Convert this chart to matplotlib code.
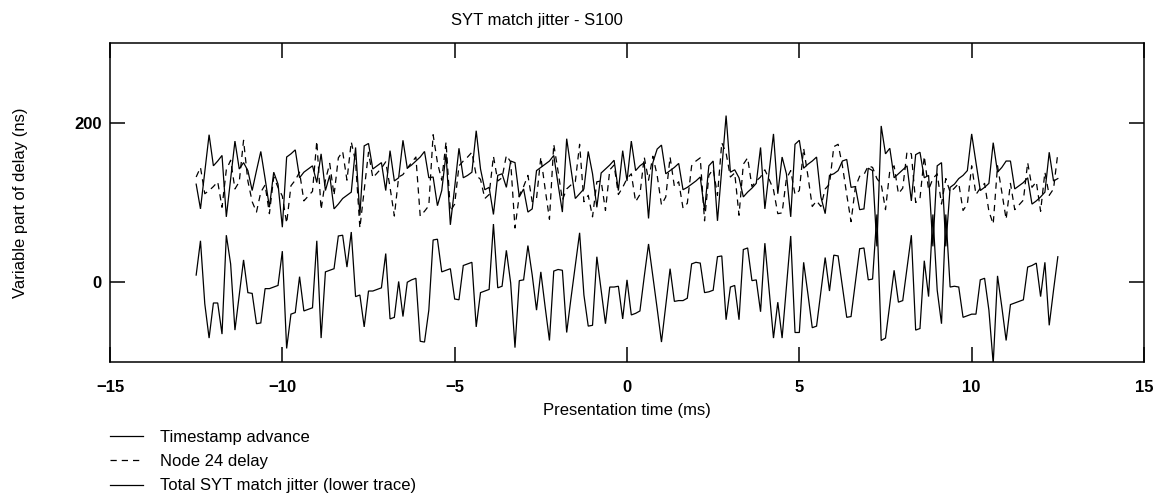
import numpy as np
import matplotlib
matplotlib.use("Agg")
import matplotlib.pyplot as plt

plt.rcParams['font.family'] = ['Liberation Sans', 'DejaVu Sans']

# Presentation time axis: 201 samples, 0.125 ms apart
t_start_ms = -12.5
t_step_ms = 0.125

timestamp_advance = [
    123, 92, 138, 185, 146, 152, 159, 82, 130, 177, 142, 150, 140, 115, 140, 164, 130, 94, 138, 123,
    69, 157, 161, 166, 131, 138, 142, 146, 125, 161, 115, 134, 92, 98, 105, 109, 113, 169, 84, 171,
    174, 142, 146, 150, 115, 165, 127, 131, 178, 143, 147, 152, 157, 164, 131, 132, 96, 115, 161, 72,
    119, 168, 131, 134, 138, 190, 142, 116, 119, 85, 134, 136, 119, 152, 150, 107, 117, 88, 92, 140,
    144, 148, 152, 159, 123, 88, 180, 142, 105, 111, 117, 164, 136, 94, 137, 142, 147, 153, 115, 165,
    127, 177, 140, 146, 150, 80, 150, 167, 172, 136, 140, 144, 149, 116, 119, 123, 127, 132, 90, 146,
    152, 77, 142, 209, 138, 141, 131, 107, 113, 118, 124, 169, 92, 139, 186, 111, 157, 136, 82, 173,
    178, 143, 148, 152, 157, 107, 86, 134, 136, 140, 152, 154, 119, 120, 91, 92, 143, 140, 45, 196,
    161, 168, 131, 136, 141, 146, 102, 160, 163, 131, 134, 45, 146, 150, 45, 119, 123, 130, 134, 140,
    186, 150, 115, 119, 124, 175, 138, 144, 152, 152, 117, 121, 125, 131, 98, 102, 107, 113, 163, 127,
    130,
]

node24_delay = [
    132, 144, 111, 115, 120, 126, 94, 141, 153, 117, 126, 178, 127, 101, 88, 113, 122, 86, 132, 119,
    108, 74, 121, 128, 138, 102, 108, 114, 177, 91, 128, 149, 109, 156, 164, 128, 176, 151, 68, 115,
    163, 131, 137, 143, 151, 119, 83, 132, 135, 143, 150, 157, 83, 89, 96, 185, 150, 128, 176, 89,
    98, 146, 152, 157, 163, 134, 129, 105, 110, 158, 127, 131, 159, 151, 68, 109, 120, 134, 101, 105,
    157, 117, 79, 173, 139, 103, 117, 122, 126, 173, 101, 109, 82, 126, 127, 90, 141, 147, 110, 119,
    130, 136, 101, 110, 157, 128, 158, 134, 97, 107, 157, 120, 126, 93, 99, 146, 152, 156, 77, 134,
    142, 109, 175, 162, 132, 137, 84, 148, 156, 120, 127, 132, 141, 129, 116, 86, 87, 130, 140, 110,
    115, 168, 133, 95, 102, 95, 117, 123, 170, 173, 146, 110, 76, 119, 133, 135, 146, 144, 130, 123,
    91, 140, 146, 111, 118, 164, 161, 100, 105, 158, 116, 130, 136, 98, 130, 113, 118, 124, 90, 98,
    146, 110, 118, 124, 89, 73, 146, 113, 79, 124, 91, 97, 103, 150, 119, 126, 89, 138, 109, 117,
    162,
]

total_jitter = [
    9, 52, -27, -70, -26, -26, -65, 59, 23, -60, -16, 28, -13, -14, -52, -51, -8, -8, -6, -4,
    39, -83, -40, -38, 7, -36, -34, -32, 52, -70, 13, 15, 17, 58, 59, 19, 63, -18, -16, -56,
    -11, -11, -9, -7, 36, -46, -44, 1, -43, 0, 3, 5, -74, -75, -35, 53, 54, 13, 15, 17,
    -21, -22, 21, 23, 25, -56, -13, -11, -9, 73, -7, -5, 40, -1, -82, 2, 3, 46, 9, -35,
    13, -31, -73, 14, 16, 15, -63, -20, 21, 62, -16, -55, -54, 32, -10, -52, -6, -6, -5, -46,
    3, -41, -39, -36, 7, 48, 8, -33, -75, -29, 17, -24, -23, -23, -20, 23, 25, 24, -13, -12,
    -10, 32, 33, -47, -6, -4, -47, 41, 43, 2, 3, -37, 49, -10, -70, -25, -70, -6, 58, -63,
    -63, 25, -15, -57, -55, -12, 31, -11, 34, 33, -6, -44, -43, -1, 42, 43, 3, 4, 85, -73,
    -70, -28, 15, -25, -23, 18, 59, -60, -58, 27, -18, 85, -10, -52, 85, -6, -5, -6, -44, -42,
    -40, -40, 3, 5, -35, -102, 8, -31, -73, -28, -26, -24, -22, 19, 21, 24, -18, 25, -54, -10,
    32,
]

series_labels = ["Timestamp advance", "Node 24 delay", "Total SYT match jitter (lower trace)"]
x_ticks = [-15, -10, -5, 0, 5, 10, 15]
y_ticks = [0, 200]

t = t_start_ms + t_step_ms * np.arange(len(total_jitter))

fig = plt.figure(figsize=(11.54, 5.0), dpi=100)
ax = fig.add_axes([110 / 1154, 1 - 362 / 500, (1144 - 110) / 1154, (362 - 43) / 500])

lw = 0.9
h1, = ax.plot(t, timestamp_advance, color="black", lw=lw, solid_joinstyle="miter")
h2, = ax.plot(t, node24_delay, color="black", lw=lw, linestyle=(0, (5, 4)))
h3, = ax.plot(t, total_jitter, color="black", lw=lw, solid_joinstyle="miter")

ax.set_xlim(-15, 15)
ax.set_ylim(-100, 300)
ax.set_xticks(x_ticks)
ax.set_yticks(y_ticks)
ax.set_xticklabels([f"{v:d}".replace("-", "\u2212") for v in x_ticks], fontweight="bold")
ax.set_yticklabels([str(v) for v in y_ticks], fontweight="bold")
ax.tick_params(direction="in", length=11, width=1.1, top=True, right=True, labelsize=12)
ax.tick_params(axis="x", pad=13)
ax.tick_params(axis="y", pad=6)
for sp in ax.spines.values():
    sp.set_linewidth(1.1)

ax.set_xlabel("Presentation time (ms)", fontsize=12, labelpad=6)
ax.set_ylabel("Variable part of delay (ns)", fontsize=12, labelpad=33)
fig.text(537 / 1154, 1 - 20 / 500, "SYT match jitter - S100", fontsize=12,
         ha="center", va="center")

fig.legend([h1, h2, h3], series_labels, loc="upper left",
           bbox_to_anchor=(110 / 1154, 1 - 430 / 500), frameon=False,
           borderaxespad=0, borderpad=0, handlelength=2.0, handletextpad=1.0,
           labelspacing=0.55, fontsize=12)

fig.savefig("out.png", dpi=100)
